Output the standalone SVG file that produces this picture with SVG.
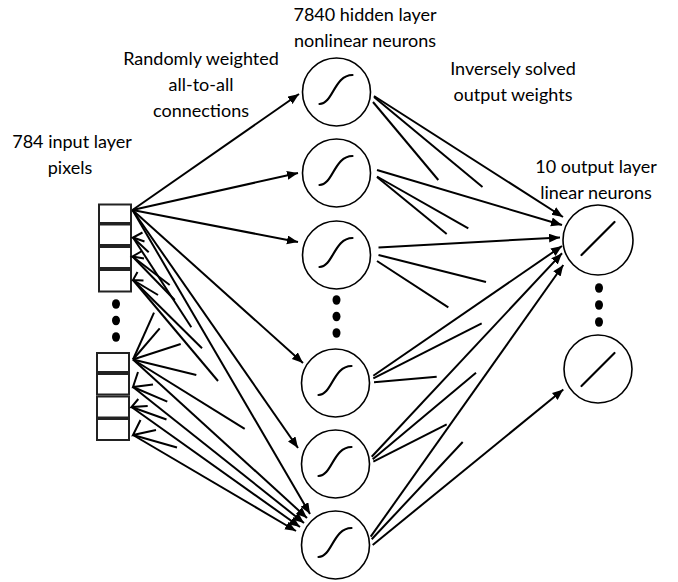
<svg xmlns="http://www.w3.org/2000/svg" width="678" height="582" viewBox="0 0 678 582">
<style>
.lbl{font-family:Lato,"Open Sans","Liberation Sans",sans-serif;font-size:18px;fill:#000;text-anchor:middle}
.box{fill:#fff;stroke:#222;stroke-width:2}
.neuron{fill:#fff;stroke:#000;stroke-width:1.6}
.fn{fill:none;stroke:#000;stroke-width:2.2;stroke-linecap:round}
.c line,.c polyline{stroke:#000;stroke-width:2;fill:none}
.c .arr{marker-end:url(#ah)}
.dot{fill:#000}
</style>
<defs>
<marker id="ah" markerUnits="userSpaceOnUse" markerWidth="12" markerHeight="10" refX="11" refY="4.5" orient="auto">
<path d="M0,0 L11,4.5 L0,9 z" fill="#000"/>
</marker>
</defs>
<rect width="678" height="582" fill="#fff"/>

<g id="labels">
<text class="lbl" x="365" y="21">7840 hidden layer</text>
<text class="lbl" x="365" y="47">nonlinear neurons</text>
<text class="lbl" x="201" y="64.5">Randomly weighted</text>
<text class="lbl" x="201" y="90.5">all-to-all</text>
<text class="lbl" x="201" y="116.5">connections</text>
<text class="lbl" x="72" y="148">784 input layer</text>
<text class="lbl" x="70" y="174">pixels</text>
<text class="lbl" x="513" y="74.5">Inversely solved</text>
<text class="lbl" x="513" y="100.5">output weights</text>
<text class="lbl" x="596" y="173">10 output layer</text>
<text class="lbl" x="596" y="199">linear neurons</text>
</g>

<g id="input-layer">
<rect class="box" x="99" y="204.5" width="32" height="18.5"/>
<rect class="box" x="99" y="224.5" width="32" height="20.5"/>
<rect class="box" x="99" y="247" width="32" height="21"/>
<rect class="box" x="99" y="270" width="32" height="21.5"/>
<ellipse class="dot" cx="116" cy="304" rx="4" ry="4.8"/>
<ellipse class="dot" cx="116" cy="320.5" rx="4" ry="4.8"/>
<ellipse class="dot" cx="116" cy="337" rx="4" ry="4.8"/>
<rect class="box" x="97" y="353" width="32" height="19"/>
<rect class="box" x="97" y="374" width="32" height="20.5"/>
<rect class="box" x="97" y="396.5" width="32" height="21"/>
<rect class="box" x="97" y="419" width="32" height="21"/>
</g>

<g id="hidden-1"><circle class="neuron" cx="336.5" cy="92" r="34"/><path class="fn" d="M319.5,104 C333,104 334,75 352.5,75"/></g>
<g id="hidden-2"><circle class="neuron" cx="336.5" cy="173" r="34"/><path class="fn" d="M319.5,185 C333,185 334,156 352.5,156"/></g>
<g id="hidden-3"><circle class="neuron" cx="336.5" cy="255" r="34"/><path class="fn" d="M319.5,267 C333,267 334,238 352.5,238"/></g>
<g id="hidden-dots">
<ellipse class="dot" cx="336.5" cy="300" rx="4" ry="4.8"/>
<ellipse class="dot" cx="336.5" cy="316.5" rx="4" ry="4.8"/>
<ellipse class="dot" cx="336.5" cy="333" rx="4" ry="4.8"/>
</g>
<g id="hidden-4"><circle class="neuron" cx="335.5" cy="383" r="34"/><path class="fn" d="M318.5,395 C332,395 333,366 351.5,366"/></g>
<g id="hidden-5"><circle class="neuron" cx="335.5" cy="464" r="34"/><path class="fn" d="M318.5,476 C332,476 333,447 351.5,447"/></g>
<g id="hidden-6"><circle class="neuron" cx="335.5" cy="545" r="34"/><path class="fn" d="M318.5,557 C332,557 333,528 351.5,528"/></g>

<g id="output-1"><circle class="neuron" cx="598" cy="240" r="35"/><line class="fn" x1="581.5" y1="255" x2="614.5" y2="222"/></g>
<g id="output-dots">
<ellipse class="dot" cx="599" cy="288" rx="4" ry="4.8"/>
<ellipse class="dot" cx="599" cy="305" rx="4" ry="4.8"/>
<ellipse class="dot" cx="599" cy="322" rx="4" ry="4.8"/>
</g>
<g id="output-2"><circle class="neuron" cx="598" cy="369" r="34"/><line class="fn" x1="581.5" y1="386" x2="614.5" y2="353"/></g>

<g id="connectors" class="c">
<!-- first input pixel to all hidden -->
<line class="arr" x1="132.5" y1="210" x2="299" y2="94"/>
<line class="arr" x1="132.5" y1="210" x2="298" y2="173"/>
<line class="arr" x1="132.5" y1="210" x2="298" y2="242"/>
<line class="arr" x1="132.5" y1="210" x2="303" y2="363"/>
<line class="arr" x1="132.5" y1="210" x2="298" y2="448"/>
<line class="arr" x1="132.5" y1="210" x2="310" y2="514"/>
<!-- upper pixels -->
<polyline points="142.5,232.5 133,237.5 144.5,241.5"/>
<line x1="133" y1="237.5" x2="148.7" y2="252.3"/>
<line x1="133" y1="237.5" x2="191.3" y2="327.3"/>
<polyline points="142,251 132.5,256.5 144,258.5"/>
<line x1="132.5" y1="256.5" x2="169.7" y2="285"/>
<line x1="132.5" y1="256.5" x2="174.7" y2="300"/>
<polyline points="137.5,272 133,280 143.5,280.5"/>
<line x1="133" y1="280" x2="158" y2="295"/>
<line x1="133" y1="280" x2="202" y2="348.3"/>
<line x1="133" y1="280" x2="218" y2="381"/>
<!-- lower pixels -->
<line x1="133" y1="359.5" x2="154" y2="312.7"/>
<line x1="133" y1="359.5" x2="159.7" y2="328.3"/>
<line x1="133" y1="359.5" x2="180.7" y2="344"/>
<line x1="133" y1="359.5" x2="196.3" y2="375"/>
<line x1="133" y1="359.5" x2="244.7" y2="428.8"/>
<line class="arr" x1="133" y1="359.5" x2="307" y2="518"/>
<polyline points="138,372 133,387 153,384.5"/>
<line x1="133" y1="387" x2="167.3" y2="401.7"/>
<line class="arr" x1="133" y1="387" x2="304" y2="523"/>
<polyline points="138.3,399 131.5,407 147.7,406"/>
<line x1="131.5" y1="407" x2="166.5" y2="419.5"/>
<line class="arr" x1="131.5" y1="407" x2="300" y2="527"/>
<polyline points="140.5,420 133,435 156,430"/>
<line x1="133" y1="435" x2="177" y2="447.5"/>
<line class="arr" x1="133" y1="435" x2="296" y2="531"/>
<!-- hidden to output -->
<line class="arr" x1="374" y1="96" x2="563" y2="217"/>
<line x1="374" y1="97" x2="482.5" y2="187"/>
<line x1="373" y1="102" x2="438.3" y2="180"/>
<line class="arr" x1="377" y1="170" x2="562" y2="225"/>
<line x1="377" y1="176.5" x2="468.3" y2="228.3"/>
<line x1="377" y1="177" x2="446.7" y2="234"/>
<line class="arr" x1="378.5" y1="247.5" x2="560" y2="237.5"/>
<line x1="378.5" y1="255" x2="486" y2="282"/>
<line x1="377" y1="261" x2="448.3" y2="307.3"/>
<line class="arr" x1="373.3" y1="375.7" x2="562" y2="246"/>
<line x1="373.3" y1="378.3" x2="481.7" y2="323.3"/>
<line x1="374" y1="382.3" x2="436.7" y2="376.7"/>
<line class="arr" x1="371.7" y1="456.7" x2="562" y2="253.3"/>
<line x1="372.7" y1="459.3" x2="476" y2="372.7"/>
<line x1="373.3" y1="461.7" x2="446.7" y2="424.3"/>
<line class="arr" x1="370.7" y1="536.7" x2="563.3" y2="265"/>
<line x1="371.7" y1="539.3" x2="462.7" y2="442"/>
<line class="arr" x1="372.7" y1="545" x2="563.3" y2="389.5"/>
</g>
</svg>
